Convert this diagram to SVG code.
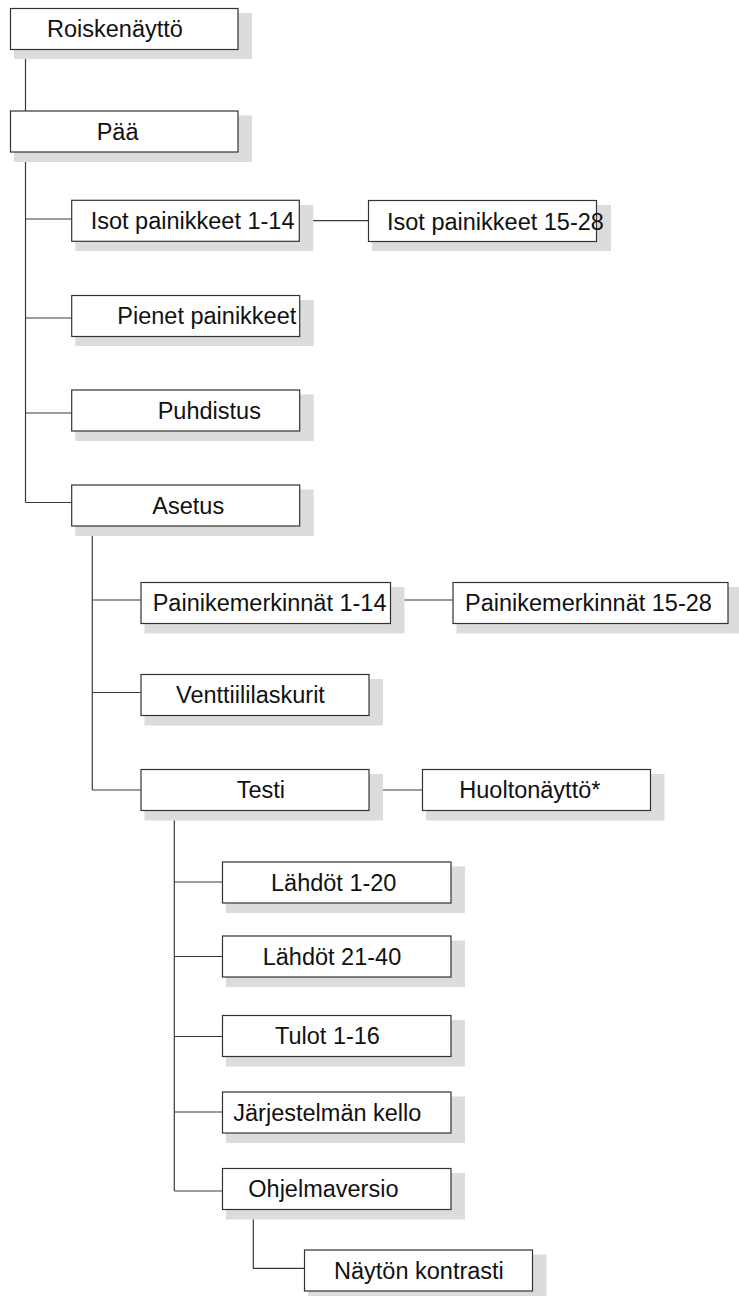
<svg xmlns="http://www.w3.org/2000/svg" width="739" height="1296" viewBox="0 0 739 1296">
<style>
  .shadow { fill: #dcdcdc; stroke: none; }
  .box { fill: #ffffff; stroke: #333333; stroke-width: 1.2; }
  .lbl { font-family: "Liberation Sans", Arial, Helvetica, sans-serif; font-size: 23.5px; fill: #111111; }
  .conn { fill: none; stroke: #3a3a3a; stroke-width: 1.2; }
</style>
<rect x="0" y="0" width="739" height="1296" fill="#ffffff"/>

<g id="connectors">
  <path class="conn" d="M25.5,49.5 V111"/>
  <path class="conn" d="M25.5,152 V502.5"/>
  <path class="conn" d="M25.5,219 H71.7"/>
  <path class="conn" d="M25.5,318 H71.7"/>
  <path class="conn" d="M25.5,413 H71.7"/>
  <path class="conn" d="M25.5,502.5 H71.7"/>
  <path class="conn" d="M299.3,220.7 H368.5"/>
  <path class="conn" d="M92.3,526 V790"/>
  <path class="conn" d="M92.3,600 H141"/>
  <path class="conn" d="M92.3,692.5 H141"/>
  <path class="conn" d="M92.3,790 H141"/>
  <path class="conn" d="M390.5,600 H453"/>
  <path class="conn" d="M371,790 H422.5"/>
  <path class="conn" d="M174.3,810.5 V1191"/>
  <path class="conn" d="M174.3,882 H222.5"/>
  <path class="conn" d="M174.3,956.5 H222.5"/>
  <path class="conn" d="M174.3,1036.5 H222.5"/>
  <path class="conn" d="M174.3,1112 H222.5"/>
  <path class="conn" d="M174.3,1191 H222.5"/>
  <path class="conn" d="M253.3,1209.5 V1268.3 H304.5"/>
</g>

<g id="n-roiskenaytto">
  <rect class="shadow" x="14" y="13" width="238" height="46"/>
  <rect class="box" x="10.5" y="8.5" width="227.5" height="41"/>
  <text class="lbl" x="47" y="37">Roiskenäyttö</text>
</g>
<g id="n-paa">
  <rect class="shadow" x="14" y="115.5" width="238" height="46.5"/>
  <rect class="box" x="10.5" y="111" width="227.5" height="41"/>
  <text class="lbl" x="96.7" y="139.5">Pää</text>
</g>
<g id="n-isot-1-14">
  <rect class="shadow" x="75.2" y="205" width="238" height="46"/>
  <rect class="box" x="71.7" y="200.3" width="227.6" height="41"/>
  <text class="lbl" x="90.7" y="229.3">Isot painikkeet 1-14</text>
</g>
<g id="n-isot-15-28">
  <rect class="shadow" x="372" y="205" width="239" height="46"/>
  <rect class="box" x="368.5" y="200.5" width="228" height="41"/>
  <text class="lbl" x="387" y="229.5">Isot painikkeet 15-28</text>
</g>
<g id="n-pienet">
  <rect class="shadow" x="75.2" y="300" width="238.5" height="46"/>
  <rect class="box" x="71.7" y="295.5" width="228" height="41"/>
  <text class="lbl" x="117.3" y="324">Pienet painikkeet</text>
</g>
<g id="n-puhdistus">
  <rect class="shadow" x="75.2" y="394.5" width="238.5" height="46.5"/>
  <rect class="box" x="71.7" y="390" width="228" height="41"/>
  <text class="lbl" x="157.7" y="418.5">Puhdistus</text>
</g>
<g id="n-asetus">
  <rect class="shadow" x="75.2" y="489.5" width="238.5" height="46.5"/>
  <rect class="box" x="71.7" y="485" width="228" height="41"/>
  <text class="lbl" x="152.3" y="513.5">Asetus</text>
</g>
<g id="n-painike-1-14">
  <rect class="shadow" x="144.5" y="587" width="260" height="46.5"/>
  <rect class="box" x="141" y="582.5" width="249.5" height="41"/>
  <text class="lbl" x="152.7" y="611">Painikemerkinnät 1-14</text>
</g>
<g id="n-painike-15-28">
  <rect class="shadow" x="456.5" y="587" width="285.5" height="46.5"/>
  <rect class="box" x="453" y="582.5" width="275" height="41"/>
  <text class="lbl" x="465" y="611">Painikemerkinnät 15-28</text>
</g>
<g id="n-venttiili">
  <rect class="shadow" x="144.5" y="679" width="238.5" height="46.5"/>
  <rect class="box" x="141" y="674.5" width="228" height="41"/>
  <text class="lbl" x="176" y="703">Venttiililaskurit</text>
</g>
<g id="n-testi">
  <rect class="shadow" x="144.5" y="774" width="238.5" height="46.5"/>
  <rect class="box" x="141" y="769.5" width="228" height="41"/>
  <text class="lbl" x="236.7" y="798">Testi</text>
</g>
<g id="n-huolto">
  <rect class="shadow" x="426" y="774" width="238.5" height="46.5"/>
  <rect class="box" x="422.5" y="769.5" width="228" height="41"/>
  <text class="lbl" x="459.3" y="798">Huoltonäyttö*</text>
</g>
<g id="n-lahdot-1-20">
  <rect class="shadow" x="226" y="866.5" width="239" height="46.5"/>
  <rect class="box" x="222.5" y="862" width="228.5" height="41"/>
  <text class="lbl" x="271" y="890.5">Lähdöt 1-20</text>
</g>
<g id="n-lahdot-21-40">
  <rect class="shadow" x="226" y="940.5" width="239" height="46.5"/>
  <rect class="box" x="222.5" y="936" width="228.5" height="41"/>
  <text class="lbl" x="262.7" y="964.5">Lähdöt 21-40</text>
</g>
<g id="n-tulot">
  <rect class="shadow" x="226" y="1020" width="239" height="46.5"/>
  <rect class="box" x="222.5" y="1015.5" width="228.5" height="41"/>
  <text class="lbl" x="275" y="1044">Tulot 1-16</text>
</g>
<g id="n-kello">
  <rect class="shadow" x="226" y="1096.5" width="239" height="46.5"/>
  <rect class="box" x="222.5" y="1092" width="228.5" height="41"/>
  <text class="lbl" x="233.3" y="1120.5">Järjestelmän kello</text>
</g>
<g id="n-ohjelmaversio">
  <rect class="shadow" x="226" y="1173" width="239" height="46.5"/>
  <rect class="box" x="222.5" y="1168.5" width="228.5" height="41"/>
  <text class="lbl" x="248.3" y="1197">Ohjelmaversio</text>
</g>
<g id="n-kontrasti">
  <rect class="shadow" x="308" y="1254.5" width="238.5" height="46.5"/>
  <rect class="box" x="304.5" y="1250" width="228" height="41"/>
  <text class="lbl" x="334" y="1278.5">Näytön kontrasti</text>
</g>
</svg>
